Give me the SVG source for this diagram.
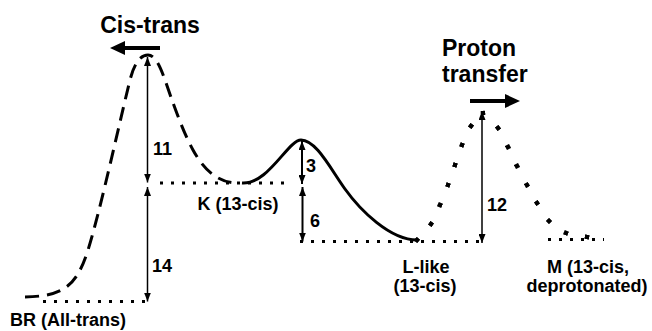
<svg xmlns="http://www.w3.org/2000/svg" width="652" height="331" viewBox="0 0 652 331">
  <style>
    .lbl { font-family: "Liberation Sans", Arial, sans-serif; font-weight: bold; fill: #000; }
    .big { font-size: 23px; }
    .state { font-size: 18px; text-anchor: middle; }
    .num { font-size: 18px; }
    .level { stroke: #000; stroke-width: 3; stroke-dasharray: 3 8; fill: none; }
    .dashed { stroke: #000; stroke-width: 3; stroke-dasharray: 14 8; fill: none; }
    .solid { stroke: #000; stroke-width: 3; fill: none; }
    .gap { stroke: #000; stroke-width: 1.5; fill: none; marker-start: url(#tip); marker-end: url(#tip); }
    .gap2 { stroke: #000; stroke-width: 2; fill: none; marker-start: url(#tip); marker-end: url(#tip); }
    .dir { stroke: #000; stroke-width: 4; fill: none; marker-end: url(#bighead); }
  </style>
  <defs>
    <marker id="tip" viewBox="0 0 9 7" refX="9" refY="3.5" markerWidth="9" markerHeight="7" markerUnits="userSpaceOnUse" orient="auto-start-reverse">
      <path d="M0,0 L9,3.5 L0,7 z" fill="#000"/>
    </marker>
    <marker id="bighead" viewBox="0 0 15 14" refX="0" refY="7" markerWidth="15" markerHeight="14" markerUnits="userSpaceOnUse" orient="auto">
      <path d="M0,0 L15,7 L0,14 z" fill="#000"/>
    </marker>
    <marker id="dot" viewBox="-2.5 -2.5 5 5" refX="0" refY="0" markerWidth="5" markerHeight="5" markerUnits="userSpaceOnUse" orient="auto">
      <rect x="-2.3" y="-2.3" width="4.6" height="4.6" fill="#000"/>
    </marker>
  </defs>

  <g id="levels">
    <line class="level" x1="43" y1="301.5" x2="152" y2="301.5"/>
    <line class="level" x1="160" y1="183" x2="292" y2="183"/>
    <line class="level" x1="300" y1="241.5" x2="482" y2="241.5"/>
    <line class="level" x1="548" y1="239.5" x2="604" y2="239.5"/>
  </g>

  <g id="curve-cis-trans">
    <path class="dashed" d="M25,297 C62,296 76,288 88,250 S120,120 130,80 C134,64 140,55 148,55 C155,55 160,66 165,80 C172,100 182,130 193,150 C205,172 220,183 237,183"/>
  </g>

  <g id="curve-k-to-l">
    <path class="solid" d="M242,183 C268,185 288,140 301,140 C316,140 330,168 345,189 C360,210 390,240 417,240"/>
  </g>

  <g id="curve-proton-transfer">
    <polyline fill="none" stroke="none" style="marker-start:url(#dot);marker-mid:url(#dot);marker-end:url(#dot)" points="417,240 431,224 440,205 448,185 455,165 462,145 471,126 483,113 498,128 508,147 517,166 527,185 537,203 549,221 566,233 587,237"/>
  </g>

  <g id="connectors">
    <line class="gap" x1="147.5" y1="57" x2="147.5" y2="182.5"/>
    <line class="gap" x1="147.5" y1="187" x2="147.5" y2="301.5"/>
    <line class="gap2" x1="302" y1="141" x2="302" y2="184"/>
    <line class="gap2" x1="302.5" y1="187" x2="302.5" y2="241.5"/>
    <line class="gap" x1="482" y1="111" x2="482" y2="243"/>
    <line class="dir" x1="160" y1="48" x2="125" y2="48"/>
    <line class="dir" x1="470" y1="101" x2="505" y2="101"/>
  </g>

  <g id="label-cis-trans"><text class="lbl big" x="150" y="33" text-anchor="middle">Cis-trans</text></g>
  <g id="label-proton-transfer">
    <text class="lbl big" x="442" y="56">Proton</text>
    <text class="lbl big" x="442" y="82">transfer</text>
  </g>

  <g id="gap-values">
    <text class="lbl num" x="153" y="155">11</text>
    <text class="lbl num" x="152" y="272">14</text>
    <text class="lbl num" x="306" y="172">3</text>
    <text class="lbl num" x="310" y="227">6</text>
    <text class="lbl num" x="487" y="211">12</text>
  </g>

  <g id="state-br"><text class="lbl state" x="68" y="326">BR (All-trans)</text></g>
  <g id="state-k"><text class="lbl state" x="238" y="210">K (13-cis)</text></g>
  <g id="state-l">
    <text class="lbl state" x="426" y="273">L-like</text>
    <text class="lbl state" x="425" y="292">(13-cis)</text>
  </g>
  <g id="state-m">
    <text class="lbl state" x="588" y="273">M (13-cis,</text>
    <text class="lbl state" x="587" y="292">deprotonated)</text>
  </g>
</svg>
